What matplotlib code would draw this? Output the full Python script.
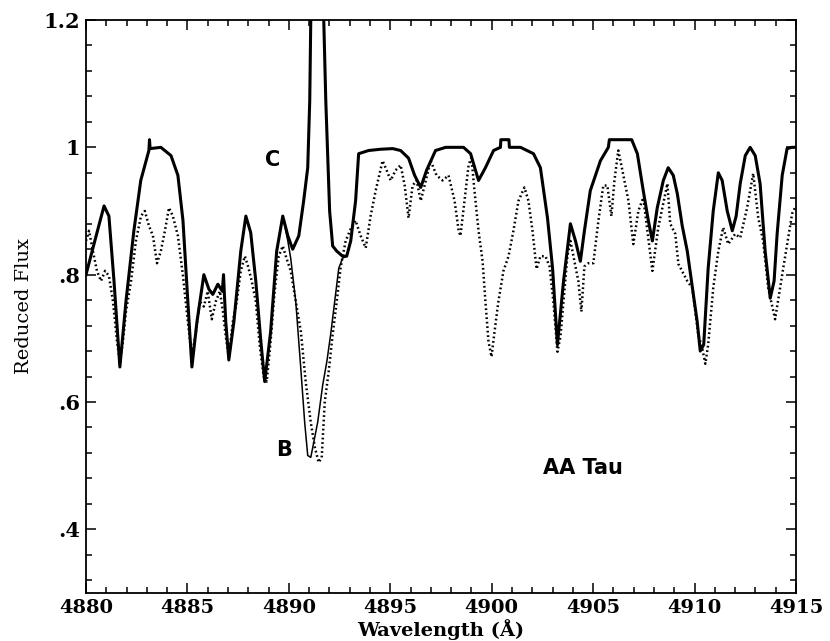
import matplotlib
matplotlib.use('Agg')
import matplotlib.pyplot as plt
from matplotlib.ticker import MultipleLocator

# model spectrum C (thick solid)
c_wave = [4880.0, 4880.5, 4880.89, 4881.13, 4881.38, 4881.67, 4881.97, 4882.36, 4882.7, 4883.1,
          4883.13, 4883.16, 4883.69, 4884.19, 4884.53, 4884.78, 4885.02, 4885.22, 4885.47, 4885.81,
          4886.06, 4886.25, 4886.5, 4886.72, 4886.78, 4886.82, 4886.89, 4887.04, 4887.29, 4887.63,
          4887.88, 4888.12, 4888.37, 4888.62, 4888.81, 4889.1, 4889.4, 4889.7, 4889.95, 4890.19,
          4890.49, 4890.73, 4890.93, 4891.03, 4891.08, 4891.3, 4891.72, 4891.82, 4892.01, 4892.16,
          4892.36, 4892.65, 4892.85, 4893.05, 4893.29, 4893.44, 4893.93, 4894.52, 4895.12, 4895.51,
          4895.9, 4896.2, 4896.5, 4896.79, 4897.23, 4897.73, 4898.61, 4898.96, 4899.2, 4899.35,
          4899.69, 4900.09, 4900.43, 4900.45, 4900.85, 4900.87, 4901.42, 4902.06, 4902.4, 4902.75,
          4903.0, 4903.24, 4903.54, 4903.88, 4904.13, 4904.37, 4904.57, 4904.86, 4905.36, 4905.75,
          4905.8, 4906.9, 4907.18, 4907.47, 4907.72, 4907.92, 4908.16, 4908.46, 4908.7, 4908.95,
          4909.15, 4909.39, 4909.64, 4909.94, 4910.13, 4910.28, 4910.45, 4910.67, 4910.92, 4911.17,
          4911.36, 4911.61, 4911.86, 4912.05, 4912.25, 4912.5, 4912.74, 4912.99, 4913.23, 4913.48,
          4913.73, 4913.92, 4914.07, 4914.32, 4914.56, 4914.8, 4915.0]
c_flux = [0.80, 0.861, 0.908, 0.892, 0.79, 0.655, 0.758, 0.869, 0.948, 0.995,
          1.012, 0.998, 1.0, 0.987, 0.956, 0.885, 0.758, 0.655, 0.726, 0.80,
          0.777, 0.769, 0.785, 0.774, 0.80, 0.77, 0.726, 0.666, 0.726, 0.837,
          0.892, 0.866, 0.79, 0.695, 0.632, 0.71, 0.837, 0.892, 0.861, 0.84,
          0.861, 0.916, 0.968, 1.074, 1.2, 1.6, 1.2, 1.074, 0.9, 0.845,
          0.837, 0.829, 0.829, 0.853, 0.916, 0.99, 0.995, 0.997, 0.998, 0.995,
          0.983, 0.956, 0.937, 0.964, 0.995, 1.0, 1.0, 0.99, 0.964, 0.948,
          0.968, 0.995, 1.0, 1.012, 1.012, 1.0, 1.0, 0.99, 0.968, 0.889,
          0.81, 0.69, 0.79, 0.88, 0.853, 0.821, 0.869, 0.932, 0.979, 1.0,
          1.012, 1.012, 0.99, 0.932, 0.885, 0.853, 0.905, 0.948, 0.968, 0.956,
          0.927, 0.877, 0.837, 0.769, 0.726, 0.68, 0.69, 0.81, 0.9, 0.96,
          0.948, 0.9, 0.869, 0.892, 0.943, 0.987, 1.0, 0.987, 0.943, 0.837,
          0.763, 0.79, 0.864, 0.956, 0.998, 1.0, 1.0]

# model B (thin solid), only where it departs from C
b_wave = [4889.7, 4889.95, 4890.09, 4890.34, 4890.59, 4890.78, 4890.93, 4891.08, 4891.23, 4891.42,
          4891.67, 4891.87, 4892.06, 4892.26, 4892.46, 4892.65, 4892.85]
b_flux = [0.892, 0.853, 0.826, 0.758, 0.652, 0.568, 0.516, 0.513, 0.537, 0.568,
          0.627, 0.663, 0.706, 0.758, 0.81, 0.826, 0.829]

# observed AA Tau spectrum (dotted)
obs_wave = [4880.0, 4880.15, 4880.34, 4880.54, 4880.74, 4880.94, 4881.13, 4881.33, 4881.53, 4881.67,
            4881.82, 4881.97, 4882.22, 4882.46, 4882.71, 4882.9, 4883.1, 4883.3, 4883.5, 4883.69,
            4883.89, 4884.09, 4884.28, 4884.53, 4884.78, 4885.02, 4885.22, 4885.42, 4885.61, 4885.81,
            4886.0, 4886.2, 4886.4, 4886.6, 4886.75, 4886.89, 4887.04, 4887.24, 4887.43, 4887.63,
            4887.83, 4887.98, 4888.17, 4888.37, 4888.57, 4888.76, 4888.91, 4889.1, 4889.3, 4889.5,
            4889.7, 4889.85, 4890.09, 4890.34, 4890.59, 4890.83, 4891.08, 4891.28, 4891.47, 4891.62,
            4891.77, 4891.96, 4892.16, 4892.36, 4892.56, 4892.8, 4893.05, 4893.29, 4893.54, 4893.79,
            4894.03, 4894.28, 4894.62, 4894.82, 4895.02, 4895.26, 4895.51, 4895.71, 4895.9, 4896.1,
            4896.3, 4896.5, 4896.69, 4896.99, 4897.28, 4897.58, 4897.87, 4898.17, 4898.37, 4898.46,
            4898.66, 4898.86, 4899.0, 4899.15, 4899.35, 4899.55, 4899.69, 4899.84, 4899.99, 4900.14,
            4900.33, 4900.58, 4900.83, 4901.07, 4901.32, 4901.61, 4901.81, 4902.01, 4902.21, 4902.4,
            4902.65, 4902.85, 4903.04, 4903.24, 4903.39, 4903.54, 4903.73, 4903.88, 4904.08, 4904.27,
            4904.42, 4904.57, 4904.77, 4905.01, 4905.26, 4905.5, 4905.7, 4905.9, 4906.05, 4906.24,
            4906.39, 4906.74, 4906.98, 4907.23, 4907.47, 4907.92, 4908.21, 4908.66, 4908.8, 4909.05,
            4909.2, 4909.64, 4909.89, 4910.18, 4910.38, 4910.53, 4910.67, 4910.92, 4911.17, 4911.41,
            4911.66, 4912.0, 4912.25, 4912.59, 4912.89, 4913.14, 4913.38, 4913.63, 4913.97, 4914.37,
            4914.81, 4914.95]
obs_flux = [0.853, 0.869, 0.837, 0.806, 0.79, 0.806, 0.798, 0.758, 0.695, 0.663,
            0.695, 0.742, 0.79, 0.853, 0.892, 0.9, 0.877, 0.861, 0.818, 0.837,
            0.869, 0.905, 0.892, 0.861, 0.798, 0.726, 0.671, 0.711, 0.758, 0.75,
            0.774, 0.73, 0.758, 0.774, 0.742, 0.703, 0.671, 0.726, 0.758, 0.806,
            0.829, 0.814, 0.79, 0.758, 0.687, 0.64, 0.632, 0.695, 0.774, 0.829,
            0.845, 0.829, 0.806, 0.758, 0.711, 0.632, 0.568, 0.529, 0.505, 0.513,
            0.6, 0.647, 0.706, 0.758, 0.813, 0.853, 0.872, 0.885, 0.861, 0.842,
            0.892, 0.932, 0.979, 0.964, 0.948, 0.964, 0.972, 0.94, 0.889, 0.94,
            0.948, 0.916, 0.94, 0.979, 0.956, 0.948, 0.956, 0.916, 0.869, 0.861,
            0.916, 0.972, 0.984, 0.932, 0.869, 0.821, 0.758, 0.695, 0.671, 0.711,
            0.758, 0.806, 0.829, 0.869, 0.916, 0.937, 0.916, 0.869, 0.809, 0.829,
            0.829, 0.813, 0.758, 0.679, 0.703, 0.758, 0.829, 0.853, 0.821, 0.79,
            0.742, 0.813, 0.818, 0.818, 0.885, 0.94, 0.94, 0.892, 0.948, 0.995,
            0.972, 0.916, 0.848, 0.9, 0.921, 0.806, 0.874, 0.943, 0.88, 0.864,
            0.817, 0.79, 0.779, 0.706, 0.684, 0.66, 0.69, 0.779, 0.837, 0.874,
            0.848, 0.864, 0.858, 0.905, 0.959, 0.889, 0.853, 0.779, 0.73, 0.81,
            0.896, 0.905]

y_ticks = [0.4, 0.6, 0.8, 1.0, 1.2]
y_tick_labels = ['.4', '.6', '.8', '1', '1.2']

fig = plt.figure(figsize=(8.3, 6.41), dpi=100)
ax = fig.add_axes([86 / 830, 48 / 641, 710 / 830, 573 / 641])

ax.plot(obs_wave, obs_flux, color='black', lw=1.8, linestyle=(0, (0.7, 1.1)))
ax.plot(b_wave, b_flux, color='black', lw=1.1)
ax.plot(c_wave, c_flux, color='black', lw=2.2, solid_joinstyle='round')

ax.set_xlim(4880, 4915)
ax.set_ylim(0.3, 1.2)

ax.xaxis.set_major_locator(MultipleLocator(5))
ax.xaxis.set_minor_locator(MultipleLocator(1))
ax.set_yticks(y_ticks)
ax.set_yticklabels(y_tick_labels)
ax.yaxis.set_minor_locator(MultipleLocator(0.04))
for lab in ax.get_xticklabels():
    lab.set_fontproperties(matplotlib.font_manager.FontProperties(family='DejaVu Serif', weight='bold', size=14))
for lab in ax.get_yticklabels():
    lab.set_fontproperties(matplotlib.font_manager.FontProperties(family='DejaVu Serif', weight='bold', size=15))

ax.tick_params(which='both', direction='in', top=True, right=True, width=1.1)
ax.tick_params(which='major', length=7, pad=4)
ax.tick_params(which='minor', length=4)
for sp in ax.spines.values():
    sp.set_linewidth(1.3)

ax.set_xlabel('Wavelength (Å)', family='DejaVu Serif', weight='bold', fontsize=14, labelpad=2)
ax.set_ylabel('Reduced Flux', family='DejaVu Serif', fontsize=14, labelpad=8)

ax.text(4889.2, 0.98, 'C', family='DejaVu Sans', weight='bold', fontsize=15, ha='center', va='center')
ax.text(4889.75, 0.524, 'B', family='DejaVu Sans', weight='bold', fontsize=15, ha='center', va='center')
ax.text(4904.5, 0.497, 'AA Tau', family='DejaVu Sans', weight='bold', fontsize=15, ha='center', va='center')

fig.savefig('out.png', dpi=100)
